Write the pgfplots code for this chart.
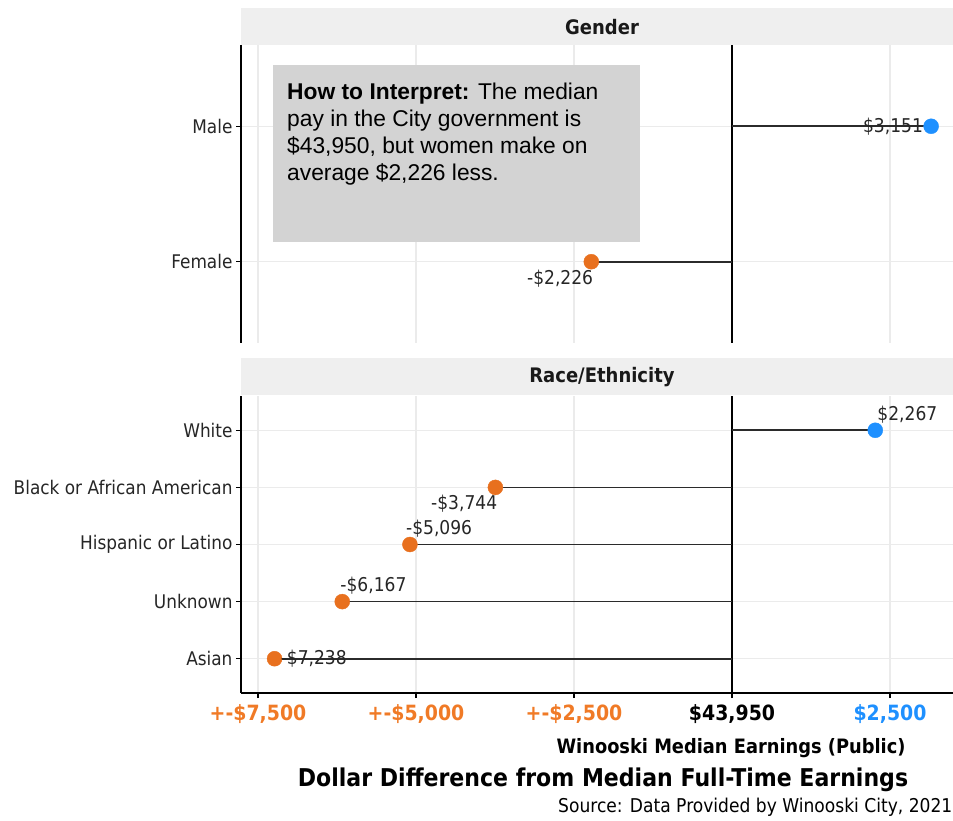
\documentclass[border=0pt]{standalone}
\usepackage{fontspec}
\setmainfont{DejaVu Sans}[FakeStretch=0.9]
\newfontfamily\arial{Liberation Sans}
\usepackage{pgfplots}
\pgfplotsset{compat=1.18}

\definecolor{negc}{HTML}{E8701E}
\definecolor{negtxt}{HTML}{F07A26}
\definecolor{posc}{HTML}{1E90FF}
\definecolor{stripc}{HTML}{EFEFEF}
\definecolor{gridc}{HTML}{EBEBEB}
\definecolor{seg}{HTML}{2B2B2B}
\definecolor{boxc}{HTML}{D3D3D3}

\pgfplotsset{
  lolli/.style={
    scale only axis, width=712pt,
    xmin=-7769, xmax=3497,
    xtick={-7500,-5000,-2500,0,2500},
    grid=major, major grid style={gridc, line width=1.4pt},
    axis lines*=left,
    y axis line style={black, line width=1.5pt},
    tick align=outside, major tick length=5pt,
    tick style={black, line width=1.2pt},
    ytick pos=left,
    yticklabel style={font=\fontsize{18.8}{20}\selectfont, text=black!85},
    clip=false,
  },
  lab/.style n args={3}{
    only marks, mark=*, mark size=7.5pt,
    point meta=explicit symbolic,
    nodes near coords={\pgfplotspointmeta},
    every node near coord/.append style={anchor=#1, xshift=#2, yshift=#3,
      inner sep=0pt, text=black!85, font=\fontsize{19}{20}\selectfont},
  },
}

\begin{document}
\begin{tikzpicture}
\useasboundingbox (0,0) rectangle (953pt,820pt);

% strips
\fill[stripc] (241pt,775pt) rectangle (953pt,812pt);
\fill[stripc] (241pt,425pt) rectangle (953pt,462pt);

% Gender (1 = Female, 2 = Male)
\begin{axis}[lolli,
  at={(241pt,477pt)}, anchor=south west, height=298pt,
  ymin=0.4, ymax=2.6,
  x axis line style={draw=none},
  xticklabels={}, xtick style={draw=none},
  ytick={1,2}, yticklabels={Female,Male},
]
\addplot[black, line width=2.5pt] coordinates {(0,0.4) (0,2.6)};
\addplot[xcomb, seg, line width=1.6pt] coordinates {(-2226,1) (3151,2)};
\addplot[negc, lab={north east}{2pt}{-8pt}] coordinates {(-2226,1) [-\$2,226]};
\addplot[posc, lab={east}{-8pt}{0pt}] coordinates {(3151,2) [\$3,151]};
\end{axis}

% Race/Ethnicity (1 = Asian ... 5 = White)
\begin{axis}[lolli,
  at={(241pt,127pt)}, anchor=south west, height=297pt,
  ymin=0.4, ymax=5.6,
  x axis line style={black, line width=1.5pt},
  xtick pos=bottom,
  ytick={1,2,3,4,5},
  yticklabels={Asian,Unknown,Hispanic or Latino,Black or African American,White},
  xticklabel style={font=\bfseries\fontsize{21}{22}\selectfont, yshift=-3pt},
  xticklabels={{\textcolor{negtxt}{+-\$7,500}},{\textcolor{negtxt}{+-\$5,000}},{\textcolor{negtxt}{+-\$2,500}},{\textcolor{black}{\$43,950}},{\textcolor{posc}{\$2,500}}},
]
\addplot[black, line width=2.5pt] coordinates {(0,0.4) (0,5.6)};
\addplot[xcomb, seg, line width=1.6pt] coordinates {(2267,5) (-3744,4) (-5096,3) (-6167,2) (-7238,1)};
\addplot[posc, lab={south west}{2pt}{7pt}] coordinates {(2267,5) [\$2,267]};
\addplot[negc, lab={north east}{2pt}{-7pt}] coordinates {(-3744,4) [-\$3,744]};
\addplot[negc, lab={south west}{-4pt}{7pt}] coordinates {(-5096,3) [-\$5,096]};
\addplot[negc, lab={south west}{-2pt}{7pt}] coordinates {(-6167,2) [-\$6,167]};
\addplot[negc, lab={west}{6pt}{0pt}] coordinates {(-7238,1) [-\$7,238]};
\end{axis}

% strip titles
\node[font=\bfseries\fontsize{20}{22}\selectfont, text=black!90] at (602pt,793pt) {Gender};
\node[font=\bfseries\fontsize{20}{22}\selectfont, text=black!90] at (602pt,443pt) {Race/Ethnicity};

% annotation box
\fill[boxc] (273pt,578pt) rectangle (640pt,755pt);
\node[anchor=north west, inner sep=0pt, align=left, font=\arial\fontsize{22.8}{27}\selectfont]
  at (287pt,737pt) {\textbf{How to Interpret:} The median\\pay in the City government is\\\$43,950, but women make on\\average \$2,226 less.};

% titles
\node[font=\bfseries\fontsize{19.8}{21}\selectfont] at (731pt,72pt) {Winooski Median Earnings (Public)};
\node[font=\bfseries\fontsize{24.5}{26}\selectfont] at (603pt,40pt) {Dollar Difference from Median Full-Time Earnings};
\node[anchor=west, inner sep=0pt, font=\fontsize{19}{21}\selectfont] at (558pt,13pt) {Source: Data Provided by Winooski City, 2021};
\end{tikzpicture}
\end{document}
